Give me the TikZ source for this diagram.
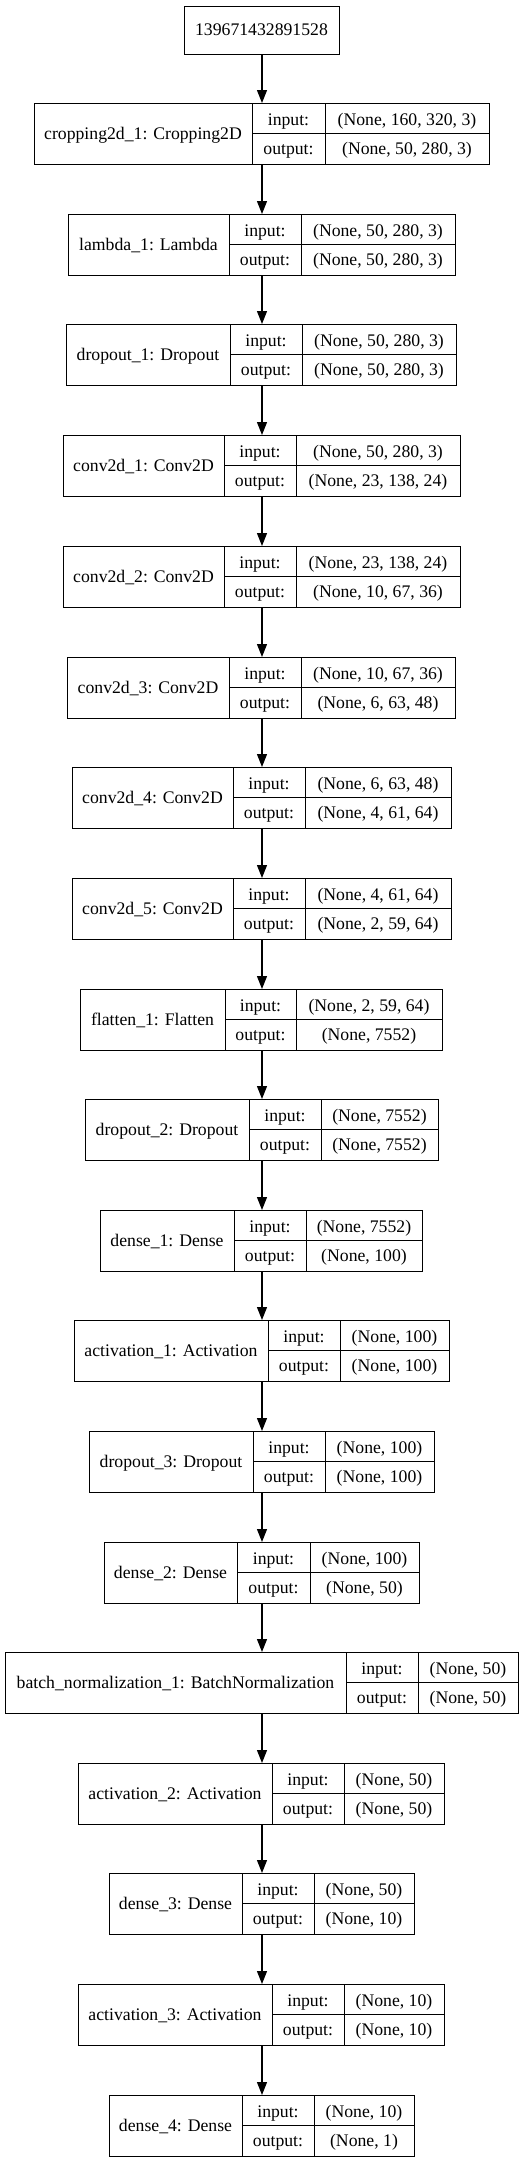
\documentclass[tikz,border=0pt]{standalone}
\usepackage{fontspec}
\setmainfont{Liberation Serif}
\usetikzlibrary{arrows.meta}
\tikzset{
  lbox/.style={draw=black, line width=1pt, rectangle, inner sep=0pt, anchor=north west},
  divline/.style={line width=1pt},
  txt/.style={anchor=base, inner sep=0pt, font=\fontsize{17.7}{20}\selectfont},
  conn/.style={line width=1.2pt, -{Triangle[length=13pt,width=10pt]}},
}
% #1 name, #2 top, #3 left, #4 div1, #5 div2, #6 right, #7 label, #8 input, #9 output
\newcommand\layerbox[9]{%
  \node[lbox, minimum width={(#6-#3)*1pt}, minimum height=61pt] (#1) at (#3,#2) {};
  \draw[divline] (#4,#2) -- (#4,{#2+61}) (#5,#2) -- (#5,{#2+61}) (#4,{#2+30.5}) -- (#6,{#2+30.5});
  \node[txt] (#1-l) at ({(#3+#4)/2},{#2+36.5}) {#7};
  \node[txt] (#1-ik) at ({(#4+#5)/2},{#2+22}) {input:};
  \node[txt] (#1-ok) at ({(#4+#5)/2},{#2+51}) {output:};
  \node[txt] (#1-iv) at ({(#5+#6)/2},{#2+22}) {#8};
  \node[txt] (#1-ov) at ({(#5+#6)/2},{#2+51}) {#9};
}
\begin{document}
\begin{tikzpicture}[x=1pt,y=-1pt]
\useasboundingbox (0,0) rectangle (532,2163);
\coordinate (ax) at (262,0);
\node[draw=black, line width=1pt, rectangle, inner sep=0pt, minimum width=155pt, minimum height=48pt, font=\fontsize{17.7}{20}\selectfont] (top) at (261.5,30) {139671432891528};
\layerbox{crop}{103}{34}{252}{325}{489}{cropping2d\_1: Cropping2D}{(None, 160, 320, 3)}{(None, 50, 280, 3)}
\layerbox{lambda}{214}{68}{229}{301}{455}{lambda\_1: Lambda}{(None, 50, 280, 3)}{(None, 50, 280, 3)}
\layerbox{drop1}{324}{66}{230}{302}{456}{dropout\_1: Dropout}{(None, 50, 280, 3)}{(None, 50, 280, 3)}
\layerbox{conv1}{435}{63}{224}{296}{460}{conv2d\_1: Conv2D}{(None, 50, 280, 3)}{(None, 23, 138, 24)}
\layerbox{conv2}{546}{63}{224}{296}{460}{conv2d\_2: Conv2D}{(None, 23, 138, 24)}{(None, 10, 67, 36)}
\layerbox{conv3}{657}{67}{229}{301}{455}{conv2d\_3: Conv2D}{(None, 10, 67, 36)}{(None, 6, 63, 48)}
\layerbox{conv4}{767}{72}{233}{305}{451}{conv2d\_4: Conv2D}{(None, 6, 63, 48)}{(None, 4, 61, 64)}
\layerbox{conv5}{878}{72}{233}{305}{451}{conv2d\_5: Conv2D}{(None, 4, 61, 64)}{(None, 2, 59, 64)}
\layerbox{flat}{989}{80}{225}{296}{442}{flatten\_1: Flatten}{(None, 2, 59, 64)}{(None, 7552)}
\layerbox{drop2}{1099}{85}{249}{321}{438}{dropout\_2: Dropout}{(None, 7552)}{(None, 7552)}
\layerbox{dense1}{1210}{100}{234}{306}{422}{dense\_1: Dense}{(None, 7552)}{(None, 100)}
\layerbox{act1}{1320}{74}{268}{340}{449}{activation\_1: Activation}{(None, 100)}{(None, 100)}
\layerbox{drop3}{1431}{89}{253}{325}{434}{dropout\_3: Dropout}{(None, 100)}{(None, 100)}
\layerbox{dense2}{1542}{104}{237}{310}{419}{dense\_2: Dense}{(None, 100)}{(None, 50)}
\layerbox{bn}{1652}{5}{346}{418}{518}{batch\_normalization\_1: BatchNormalization}{(None, 50)}{(None, 50)}
\layerbox{act2}{1763}{78}{272}{344}{444}{activation\_2: Activation}{(None, 50)}{(None, 50)}
\layerbox{dense3}{1873}{109}{242}{314}{414}{dense\_3: Dense}{(None, 50)}{(None, 10)}
\layerbox{act3}{1984}{78}{272}{344}{444}{activation\_3: Activation}{(None, 10)}{(None, 10)}
\layerbox{dense4}{2095}{109}{242}{314}{414}{dense\_4: Dense}{(None, 10)}{(None, 1)}
\foreach \a/\b in {top/crop, crop/lambda, lambda/drop1, drop1/conv1, conv1/conv2, conv2/conv3, conv3/conv4, conv4/conv5, conv5/flat, flat/drop2, drop2/dense1, dense1/act1, act1/drop3, drop3/dense2, dense2/bn, bn/act2, act2/dense3, dense3/act3, act3/dense4}
  \draw[conn] (\a.south -| ax) -- (\b.north -| ax);
\end{tikzpicture}
\end{document}
